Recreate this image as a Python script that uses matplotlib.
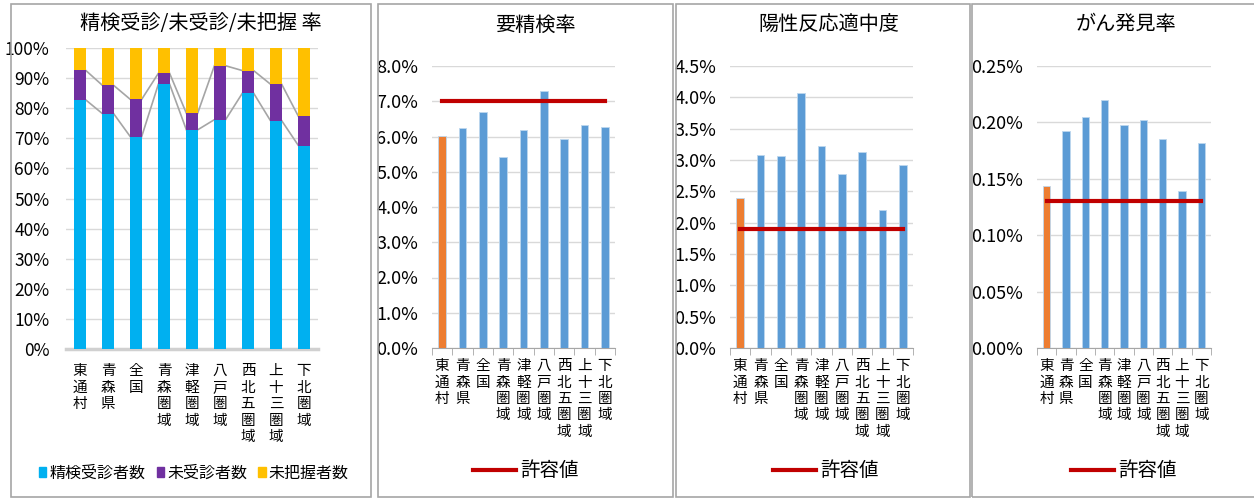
import matplotlib
matplotlib.use("Agg")
import matplotlib.pyplot as plt
from matplotlib.patches import Rectangle
from matplotlib.lines import Line2D
from matplotlib.ticker import FixedLocator, FuncFormatter

plt.rcParams['font.family'] = ['Noto Sans CJK JP', 'DejaVu Sans']

categories = ["東通村", "青森県", "全国", "青森圏域", "津軽圏域", "八戸圏域", "西北五圏域", "上十三圏域", "下北圏域"]

# Panel 1: stacked percentages
examined = [82.8, 78.2, 70.5, 88.0, 72.8, 76.2, 85.0, 75.9, 67.6]
not_examined = [9.8, 9.4, 12.4, 3.6, 5.5, 17.9, 7.5, 12.1, 9.7]
unknown = [100 - a - b for a, b in zip(examined, not_examined)]
legend1 = ["精検受診者数", "未受診者数", "未把握者数"]
title1 = "精検受診/未受診/未把握 率"

# Panels 2-4
req_rate = [6.01, 6.24, 6.69, 5.42, 6.18, 7.29, 5.92, 6.34, 6.26]
req_limit = 7.0
ppv = [2.40, 3.08, 3.07, 4.07, 3.22, 2.78, 3.12, 2.20, 2.92]
ppv_limit = 1.9
detect = [0.144, 0.192, 0.205, 0.220, 0.198, 0.202, 0.185, 0.139, 0.182]
detect_limit = 0.13
titles = ["要精検率", "陽性反応適中度", "がん発見率"]
limit_label = "許容値"

C_CYAN, C_PURPLE, C_YELLOW = "#00B0F0", "#7030A0", "#FFC000"
C_BLUE, C_ORANGE, C_RED = "#5B9BD5", "#ED7D31", "#C00000"
GRID = "#D9D9D9"

W, H = 1254, 499
fig = plt.figure(figsize=(W / 100, H / 100), dpi=100)

def fx(px):
    return px / W

def fy(py):
    return 1 - py / H

# panel frames
for x0, x1 in [(11, 371), (378, 673), (676, 970), (972, 1268)]:
    fig.add_artist(Rectangle((fx(x0), fy(497)), fx(x1 - x0), (497 - 4) / H,
                             transform=fig.transFigure, fill=False,
                             edgecolor="#A6A6A6", linewidth=1.2))

vert = ["\n".join(list(c)) for c in categories]
xs = list(range(len(categories)))
XT_FS, XT_LS = 10.5, 1.22

# ---------- Panel 1 ----------
ax1 = fig.add_axes([fx(66), fy(349), fx(252), 301 / H])
bw = 0.4
ax1.bar(xs, examined, width=bw, color=C_CYAN, label=legend1[0], zorder=3)
ax1.bar(xs, not_examined, width=bw, bottom=examined, color=C_PURPLE, label=legend1[1], zorder=3)
tops2 = [a + b for a, b in zip(examined, not_examined)]
ax1.bar(xs, unknown, width=bw, bottom=tops2, color=C_YELLOW, label=legend1[2], zorder=3)
for series in (examined, tops2):
    for i in range(len(xs) - 1):
        ax1.plot([xs[i] + bw / 2, xs[i + 1] - bw / 2], [series[i], series[i + 1]],
                 color="#A5A5A5", lw=1.2, zorder=2)
ax1.set_xlim(-0.5, len(xs) - 0.5)
ax1.set_ylim(0, 100)
ax1.set_yticks(range(0, 101, 10))
ax1.yaxis.set_major_formatter(FuncFormatter(lambda v, p: f"{int(v)}%"))
ax1.set_xticks(xs)
ax1.set_xticklabels(vert, fontsize=XT_FS, linespacing=XT_LS, va="top")
ax1.tick_params(axis="x", length=0, pad=11)
ax1.tick_params(axis="y", length=0, pad=12, labelsize=12.5)
ax1.grid(axis="y", color=GRID, lw=1, zorder=0)
for s in ["top", "right", "left"]:
    ax1.spines[s].set_visible(False)
ax1.spines["bottom"].set_color("#D0D0D0")
ax1.spines["bottom"].set_linewidth(2.5)
fig.text(fx(201), fy(24), title1, ha="center", va="center", fontsize=14.5)
h1 = [Rectangle((0, 0), 1, 1, color=c) for c in (C_CYAN, C_PURPLE, C_YELLOW)]
fig.legend(h1, legend1, loc="center", bbox_to_anchor=(fx(194), fy(473)), ncol=3,
           frameon=False, fontsize=11.5, handlelength=0.45, handleheight=0.55,
           handletextpad=0.2, columnspacing=0.7)

# ---------- Panels 2-4 ----------
panels = [
    (req_rate, req_limit, 432, 183, 8.0, 1.0, 1, titles[0], 535, 526),
    (ppv, ppv_limit, 730, 183, 4.5, 0.5, 1, titles[1], 829, 826),
    (detect, detect_limit, 1037, 174, 0.25, 0.05, 2, titles[2], 1126, 1124),
]
for vals, lim, left, width, ymax, step, dec, title, tcx, lcx in panels:
    ax = fig.add_axes([fx(left), fy(348), fx(width), 282 / H])
    colors = [C_ORANGE] + [C_BLUE] * (len(vals) - 1)
    ax.bar(xs, vals, width=0.37, color=colors, edgecolor="#BDD7EE", linewidth=0.6, zorder=3)
    ax.plot([xs[0], xs[-1]], [lim, lim], color=C_RED, lw=3, zorder=4)
    ax.set_xlim(-0.5, len(xs) - 0.5)
    ax.set_ylim(0, ymax)
    n = int(round(ymax / step))
    ax.set_yticks([i * step for i in range(n + 1)])
    ax.yaxis.set_major_formatter(FuncFormatter(lambda v, p, d=dec: f"{v:.{d}f}%"))
    ax.set_xticks(xs)
    ax.set_xticklabels(vert, fontsize=XT_FS, linespacing=XT_LS, va="top")
    ax.xaxis.set_minor_locator(FixedLocator([i - 0.5 for i in range(len(xs) + 1)]))
    ax.tick_params(axis="x", which="major", length=0, pad=8)
    ax.tick_params(axis="x", which="minor", length=5, color="#A6A6A6", direction="out")
    ax.tick_params(axis="y", length=0, labelsize=13, pad=10)
    ax.grid(axis="y", color=GRID, lw=1, zorder=0)
    for s in ["top", "right", "left"]:
        ax.spines[s].set_visible(False)
    ax.spines["bottom"].set_color("#A6A6A6")
    fig.text(fx(tcx), fy(25), title, ha="center", va="center", fontsize=14.5)
    fig.legend([Line2D([0], [0], color=C_RED, lw=3)], [limit_label], loc="center",
               bbox_to_anchor=(fx(lcx), fy(471)), frameon=False, fontsize=14,
               handlelength=2.2, handletextpad=0.2)

fig.savefig("out.png", dpi=100, facecolor="white")
